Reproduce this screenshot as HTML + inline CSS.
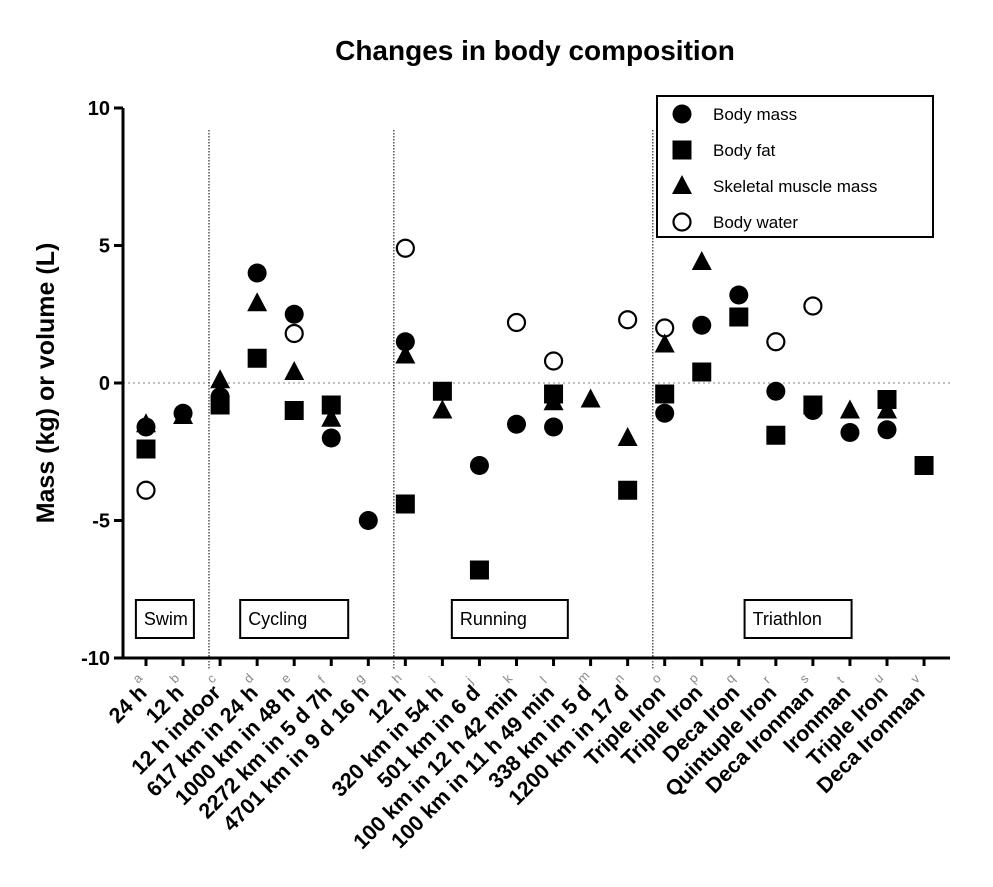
<!DOCTYPE html>
<html><head><meta charset="utf-8"><style>
body{margin:0;background:#fff;}
svg text{font-family:"Liberation Sans",Arial,sans-serif;}
</style></head><body>
<svg id="chart" width="993" height="882" xmlns="http://www.w3.org/2000/svg">
<text x="535" y="60" text-anchor="middle" font-size="28" font-weight="bold">Changes in body composition</text>
<text transform="translate(54,383) rotate(-90)" text-anchor="middle" font-size="25" font-weight="bold">Mass (kg) or volume (L)</text>
<g id="plot"></g>
</svg>
<script>
const categories=["24 h","12 h","12 h indoor","617 km in 24 h","1000 km in 48 h","2272 km in 5 d 7h","4701 km in 9 d 16 h","12 h","320 km in 54 h","501 km in 6 d","100 km in 12 h 42 min","100 km in 11 h 49 min","338 km in 5 d","1200 km in 17 d","Triple Iron","Triple Iron","Deca Iron","Quintuple Iron","Deca Ironman","Ironman","Triple Iron","Deca Ironman"];
const letters=["a","b","c","d","e","f","g","h","i","j","k","l","m","n","o","p","q","r","s","t","u","v"];
const bodyMass=[-1.6,-1.1,-0.5,4.0,2.5,-2.0,-5.0,1.5,null,-3.0,-1.5,-1.6,null,null,-1.1,2.1,3.2,-0.3,-1.0,-1.8,-1.7,null];
const bodyFat=[-2.4,null,-0.8,0.9,-1.0,-0.8,null,-4.4,-0.3,-6.8,null,-0.4,null,-3.9,-0.4,0.4,2.4,-1.9,-0.8,null,-0.6,-3.0];
const muscle=[-1.5,-1.2,0.1,2.9,0.4,-1.3,null,1.0,-1.0,null,null,-0.7,-0.6,-2.0,1.4,4.4,null,null,null,-1.0,-1.0,null];
const water=[-3.9,null,null,null,1.8,null,null,4.9,null,null,2.2,0.8,null,2.3,2.0,null,null,1.5,2.8,null,null,null];
const yTicks=[10,5,0,-5,-10];
const groups=["Swim","Cycling","Running","Triathlon"];
const groupCenters=[0.51,4.0,9.82,17.6];
const dividerPos=[1.7,6.69,13.68];
const legendLabels=["Body mass","Body fat","Skeletal muscle mass","Body water"];

const NS="http://www.w3.org/2000/svg";
const g=document.getElementById('plot');
const X0=123,X1=950,Y0=108,Y1=658;
const x=i=>146+37.05*i;
const y=v=>383-27.5*v;
function mk(tag,attrs,parent){const e=document.createElementNS(NS,tag);for(const k in attrs)e.setAttribute(k,attrs[k]);(parent||g).appendChild(e);return e;}

let e;
e=mk('line',{x1:X0,y1:y(0),x2:X1,y2:y(0),stroke:'#999','stroke-width':1.2,'stroke-dasharray':'2,3'});


dividerPos.forEach(d=>{
  e=mk('line',{x1:x(d),y1:130,x2:x(d),y2:Y1+12,stroke:'#000','stroke-width':1,'stroke-dasharray':'1.5,1.5'});
  
  
});
groups.forEach((n,i)=>{
  const c=x(groupCenters[i]);
  const w=[58,108,116,107][i];
  e=mk('rect',{x:c-w/2,y:600,width:w,height:38,fill:'#fff',stroke:'#000','stroke-width':2});
  
  
  e=mk('text',{x:c-w/2+8,y:625,'font-size':18});
  e.textContent=n;
  
  
});
e=mk('line',{x1:X0,y1:Y0,x2:X0,y2:Y1+1,stroke:'#000','stroke-width':3});


e=mk('line',{x1:X0-1,y1:Y1,x2:X1,y2:Y1,stroke:'#000','stroke-width':3});


yTicks.forEach(t=>{
  mk('line',{x1:X0-9,y1:y(t),x2:X0,y2:y(t),stroke:'#000','stroke-width':3});
  e=mk('text',{x:X0-13,y:y(t)+7,'text-anchor':'end','font-size':20,'font-weight':'bold'});
  e.textContent=t;
  
  
});
categories.forEach((c,i)=>{
  mk('line',{x1:x(i),y1:Y1,x2:x(i),y2:Y1+8,stroke:'#000','stroke-width':3});
  e=mk('text',{transform:`translate(${x(i)+2},${Y1+36}) rotate(-45)`,'text-anchor':'end','font-size':21.5,'font-weight':'bold'});
  e.textContent=c;
  
  
  e=mk('text',{transform:`translate(${x(i)-8},${Y1+26}) rotate(-45)`,'font-size':13,fill:'#888'});
  e.textContent=letters[i];
  
  
});
function marker(type,cx,cy,parent){
  if(type==0)return mk('circle',{cx,cy,r:9.5,fill:'#000'},parent);
  if(type==1)return mk('rect',{x:cx-9.5,y:cy-9.5,width:19,height:19,fill:'#000'},parent);
  if(type==2)return mk('polygon',{points:`${cx},${cy-11} ${cx+10},${cy+8} ${cx-10},${cy+8}`,fill:'#000'},parent);
  return mk('circle',{cx,cy,r:8.5,fill:'#fff',stroke:'#000','stroke-width':2.2},parent);
}
const series=[bodyMass,bodyFat,muscle,water];
const sNames=['body-mass-point','body-fat-point','muscle-mass-point','body-water-point'];
[3,1,2,0].forEach(s=>{
  series[s].forEach((v,i)=>{
    if(v===null)return;
    e=marker(s,x(i),y(v));
    
    
  });
});
const lg=mk('g',{});


mk('rect',{x:657,y:96,width:276,height:141,fill:'#fff',stroke:'#000','stroke-width':2},lg);
legendLabels.forEach((l,i)=>{
  const yy=114+36*i;
  marker(i,682,yy,lg);
  e=mk('text',{x:713,y:yy+6,'font-size':17},lg);
  e.textContent=l;
  
  
});
</script>
</body></html>
